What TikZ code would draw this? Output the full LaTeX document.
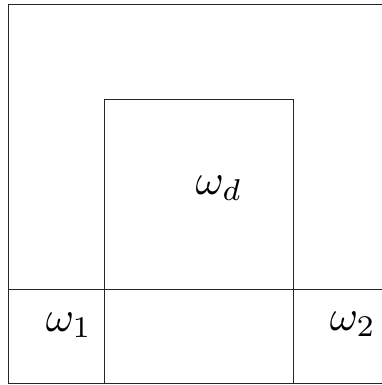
\documentclass[tikz,border=0pt]{standalone}
\begin{document}
\begin{tikzpicture}[x=1pt,y=-1pt,
  edge/.style={line width=0.9pt, draw=black!85},
  lbl/.style={inner sep=0pt, scale=4.3}]
\useasboundingbox (0,0) rectangle (382,385);
\clip (0,0) rectangle (382,385);
\coordinate (oTL) at (8.5,4.5);
\coordinate (oBR) at (388,383.5);
\coordinate (iTL) at (104,99.3);
\coordinate (iBR) at (293.3,383.5);
\coordinate (hL) at (8.5,289.5);
\coordinate (hR) at (388,289.5);
\draw[edge] (oTL) rectangle (oBR);
\draw[edge] (iTL) rectangle (iBR);
\draw[edge] (hL) -- (hR);
\node[lbl] (wd) at (219,188) {$\omega_d$};
\node[lbl] (w1) at (69,325) {$\omega_1$};
\node[lbl] (w2) at (353,324) {$\omega_2$};
\end{tikzpicture}
\end{document}
